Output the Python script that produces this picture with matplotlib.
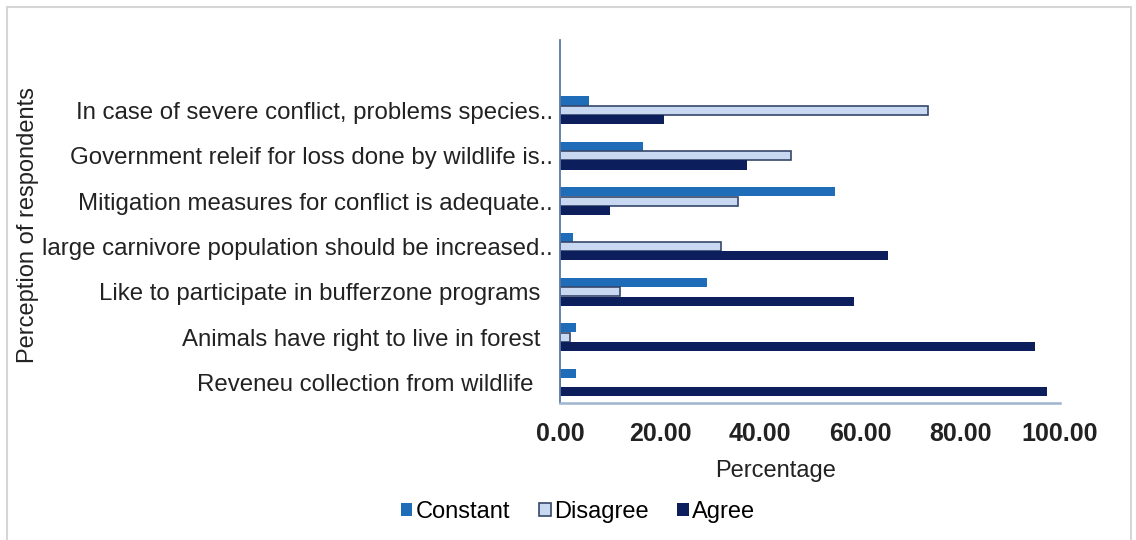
import matplotlib
matplotlib.use("Agg")
import matplotlib.pyplot as plt
from matplotlib.patches import Rectangle
from matplotlib.transforms import ScaledTranslation
import numpy as np

plt.rcParams['font.family'] = ['Liberation Sans', 'DejaVu Sans']

# Survey statements (top to bottom) and response shares in percent
statements = [
    "In case of severe conflict, problems species..",
    "Government releif for loss done by wildlife is..",
    "Mitigation measures for conflict is adequate..",
    "large carnivore population should be increased..",
    "Like to participate in bufferzone programs",
    "Animals have right to live in forest",
    "Reveneu collection from wildlife",
]
constant = [5.7, 16.6, 54.9, 2.5, 29.4, 3.2, 3.2]
disagree = [73.6, 46.2, 35.5, 32.1, 11.9, 1.9, 0.0]
agree = [20.7, 37.3, 10.0, 65.5, 58.8, 95.0, 97.3]
x_ticks = [0, 20, 40, 60, 80, 100]

c_constant = "#1f6cb8"
c_disagree = "#c8d8f0"
c_disagree_edge = "#36476a"
c_agree = "#0c1e5c"
c_text = "#222222"

fig = plt.figure(figsize=(11.36, 5.40), dpi=100)
fig.patch.set_facecolor("white")

# light outer frame of the chart area
fig.add_artist(Rectangle((7 / 1136, -0.02), (1131 - 7) / 1136, 1 - 7 / 540 + 0.02,
                         transform=fig.transFigure, fill=False,
                         edgecolor="#d6d6d6", linewidth=1.5))

ax = fig.add_axes([560 / 1136, 1 - 403 / 540, 500 / 1136, 363 / 540])

y = np.arange(len(statements))
h = 0.2
ax.barh(y - 0.205, constant, height=h, color=c_constant, label="Constant")
ax.barh(y, disagree, height=h, color=c_disagree, edgecolor=c_disagree_edge,
        linewidth=1.2, label="Disagree")
ax.barh(y + 0.205, agree, height=h, color=c_agree, label="Agree")

ax.set_xlim(0, 100)
ax.set_ylim(6.45, -1.55)
ax.set_xticks(x_ticks)
ax.set_xticklabels([f"{v:.2f}" for v in x_ticks], fontsize=18,
                   fontweight="semibold", color=c_text)
ax.set_yticks(y)
ax.set_yticklabels(statements, fontsize=17.3, color=c_text)
ax.tick_params(axis="both", length=0)
ax.tick_params(axis="x", pad=14)
ax.tick_params(axis="y", pad=5)

# the untruncated statements sit slightly further left
shifts = [0, 0, 0, 0, -13, -13, -20]
for lbl, dx in zip(ax.get_yticklabels(), shifts):
    lbl.set_transform(lbl.get_transform() + ScaledTranslation(dx / 100, 0, fig.dpi_scale_trans))

for side in ("top", "right"):
    ax.spines[side].set_visible(False)
ax.spines["left"].set_color("#5a78a6")
ax.spines["left"].set_linewidth(1.3)
ax.spines["bottom"].set_color("#9fb4cf")
ax.spines["bottom"].set_linewidth(1.8)

ax.set_xlabel("Percentage", fontsize=17, color=c_text)
ax.xaxis.set_label_coords((776 - 560) / 500, -(460 - 403) / 363)
ax.set_ylabel("Perception of respondents", fontsize=17, color=c_text)
ax.yaxis.set_label_coords((39 - 560) / 500, (403 - 225) / 363)

fig.legend(loc="center", bbox_to_anchor=(578 / 1136, 1 - 512 / 540), ncol=3,
           frameon=False, fontsize=17, handlelength=0.5, handleheight=0.5,
           handletextpad=0.15, columnspacing=1.2)

fig.savefig("out.png", dpi=100, facecolor="white")
